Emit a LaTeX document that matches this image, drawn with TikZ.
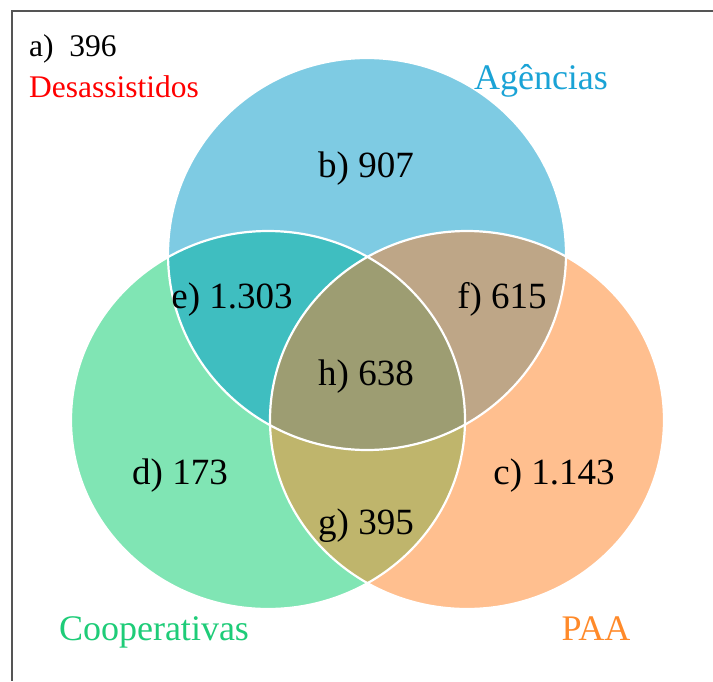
\documentclass[tikz,border=0pt]{standalone}
\usepackage{fontspec}
\setmainfont{Liberation Serif}
\definecolor{cblue}{HTML}{7ECBE3}
\definecolor{cgreen}{HTML}{80E5B4}
\definecolor{corange}{HTML}{FFBF8F}
\definecolor{cbg}{HTML}{3FBEC0}
\definecolor{cbo}{HTML}{BEA687}
\definecolor{cgo}{HTML}{BFB56C}
\definecolor{cbgo}{HTML}{9D9D72}
\definecolor{tblue}{HTML}{1AA3D6}
\definecolor{tgreen}{HTML}{1ECC78}
\definecolor{torange}{HTML}{FF8A2A}
\definecolor{framegray}{HTML}{555555}
\tikzset{
  num/.style={font=\fontsize{37}{40}\selectfont, anchor=base, inner sep=0pt},
  cat/.style={font=\fontsize{36}{40}\selectfont, anchor=base, inner sep=0pt},
  small/.style={font=\fontsize{31.5}{34}\selectfont, anchor=base west, inner sep=0pt},
}
\def\pblue{(367,254) ellipse [x radius=199pt, y radius=196pt]}
\def\pgreen{(268,420) ellipse [x radius=197pt, y radius=189pt]}
\def\porange{(467,420) ellipse [x radius=197pt, y radius=189pt]}
\begin{document}
\begin{tikzpicture}[x=1pt,y=-1pt]
\useasboundingbox (0,0) rectangle (713,681);
\fill[white] (0,0) rectangle (713,681);
\draw[framegray, line width=2pt] (713,11) -- (12,11) -- (12,681);
% base fills
\fill[cblue] \pblue;
\fill[cgreen] \pgreen;
\fill[corange] \porange;
% pairwise overlaps
\begin{scope}
  \clip \pblue;
  \fill[cbg] \pgreen;
\end{scope}
\begin{scope}
  \clip \pblue;
  \fill[cbo] \porange;
\end{scope}
\begin{scope}
  \clip \pgreen;
  \fill[cgo] \porange;
\end{scope}
\begin{scope}
  \clip \pblue;
  \clip \pgreen;
  \fill[cbgo] \porange;
\end{scope}
% white outlines
\draw[white, line width=2.2pt] \pblue;
\draw[white, line width=2.2pt] \pgreen;
\draw[white, line width=2.2pt] \porange;
% labels
\node[small] (a) at (29,56) {a)\ \ 396};
\node[small, text=red] (des) at (29,97) {Desassistidos};
\node[cat, text=tblue] (ag) at (541,89) {Agências};
\node[cat, text=tgreen] (coop) at (154,640) {Cooperativas};
\node[cat, text=torange] (paa) at (596,640) {PAA};
\node[num] (b) at (366,177) {b) 907};
\node[num] (e) at (232,308) {e) 1.303};
\node[num] (f) at (502,308) {f) 615};
\node[num] (h) at (366,385) {h) 638};
\node[num] (d) at (180,484) {d) 173};
\node[num] (c) at (554,484) {c) 1.143};
\node[num] (g) at (366,534) {g) 395};
\end{tikzpicture}
\end{document}
